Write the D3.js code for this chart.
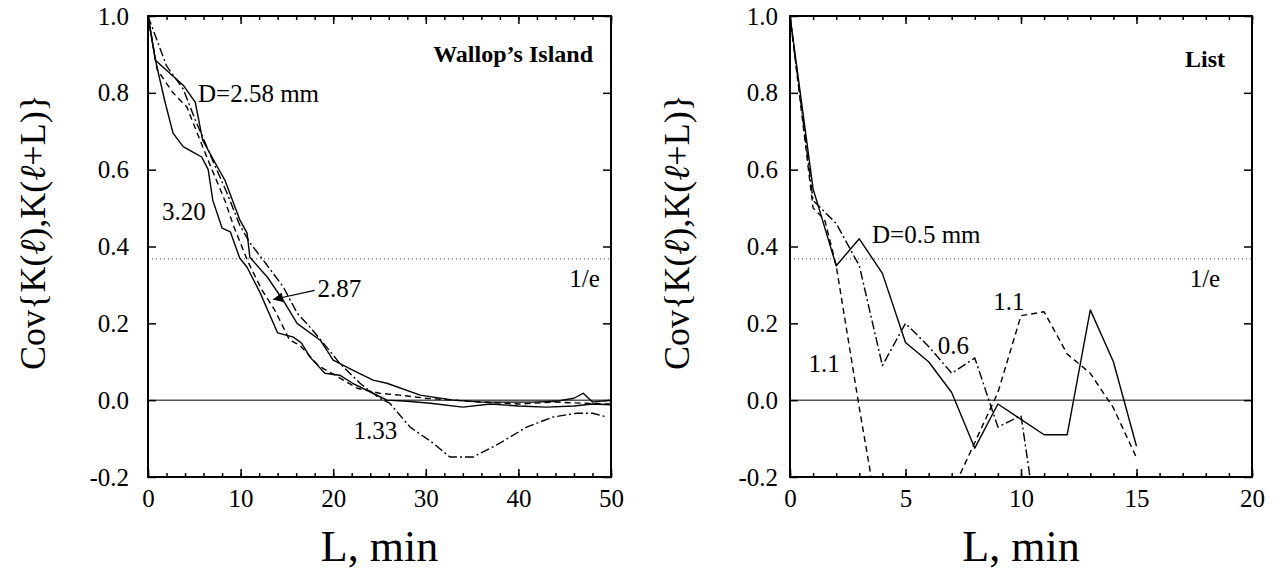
<!DOCTYPE html>
<html>
<head>
<meta charset="utf-8">
<script src="https://cdn.jsdelivr.net/npm/d3@7"></script>
<style>
  html, body { margin: 0; padding: 0; background: #fff; }
  svg { display: block; font-family: "Liberation Serif", "DejaVu Serif", serif; }
  .frame { fill: none; stroke: #000; stroke-width: 2; }
  .curve { fill: none; stroke: #000; stroke-width: 1.4; stroke-linejoin: round; }
  .tick-label { font-family: "Liberation Serif", serif; font-size: 25px; fill: #000; }
  .note { font-family: "Liberation Serif", serif; }
</style>
</head>
<body>
<svg id="chart" width="1277" height="571"></svg>
<script>
'use strict';

// ── Data: left panel (Wallop's Island), [L min, Cov] ─────────
const WALLOPS_258 = [[0,1],[0.8,0.885],[3.8,0.82],[5.1,0.776],[5.9,0.677],[7.5,0.607],[8.3,0.573],
  [9.9,0.47],[10.7,0.435],[11.0,0.372],[12.9,0.32],[14.6,0.26],[16.1,0.2],[18.6,0.156],[20,0.104],
  [22.1,0.078],[24.3,0.052],[25.8,0.044],[29.4,0.013],[33,0.0],[36,-0.005],[41.6,-0.005],[44,-0.003],
  [46,0.005],[47,0.018],[48,-0.005],[50,0.0]];
const WALLOPS_320 = [[0,1],[0.8,0.885],[1.8,0.78],[2.7,0.695],[3.8,0.66],[4.9,0.645],[5.8,0.633],
  [6.5,0.6],[7.0,0.52],[8.0,0.448],[8.9,0.438],[9.9,0.37],[10.7,0.346],[12.1,0.28],[14.0,0.175],
  [15.7,0.164],[16.6,0.148],[17.5,0.112],[19.1,0.07],[20.7,0.065],[22.1,0.044],[24.3,0.018],[25.8,0.0],
  [28,-0.003],[30.5,-0.008],[34,-0.018],[37,-0.01],[40,-0.015],[43,-0.018],[46,-0.015],[48,-0.01],[50,-0.012]];
const WALLOPS_287 = [[0,1],[1,0.86],[2.7,0.8],[4.2,0.763],[5.4,0.69],[6.7,0.612],[8.3,0.52],[9.2,0.456],
  [10.8,0.36],[12.3,0.287],[13.7,0.234],[15.3,0.156],[16.4,0.143],[18.4,0.09],[20.2,0.065],[22.6,0.031],
  [25,0.018],[27.2,0.013],[30,0.005],[33,0.0],[36,-0.005],[40,-0.01],[44,-0.005],[47,-0.008],[50,-0.01]];
const WALLOPS_133 = [[0,1],[2,0.87],[3.8,0.81],[5.1,0.73],[6.7,0.64],[8.6,0.535],[9.9,0.456],[11,0.41],
  [12.9,0.35],[14.6,0.295],[16.1,0.227],[17.5,0.19],[19.3,0.138],[20.7,0.096],[22.9,0.044],[25,0.005],
  [26.1,-0.008],[28.3,-0.07],[30.8,-0.112],[32.6,-0.148],[35.1,-0.148],[38,-0.112],[40.9,-0.07],
  [43.7,-0.044],[46.3,-0.034],[48,-0.034],[49.6,-0.044]];

// ── Data: right panel (List) ─────────────────────────────────
const LIST_05 = [[0,1],[1,0.55],[2,0.35],[3,0.42],[4,0.33],[5,0.15],[6,0.10],[7,0.02],[8,-0.125],
  [9,-0.01],[10,-0.05],[11,-0.09],[12,-0.09],[13,0.235],[14,0.10],[15,-0.12]];
const LIST_06 = [[0,1],[1,0.52],[2,0.46],[3,0.35],[4,0.09],[5,0.2],[6,0.14],[7,0.07],[8,0.11],
  [9,-0.07],[10,-0.04],[11,-0.45]];
const LIST_11 = [[0,1],[1,0.5],[1.5,0.47],[2,0.35],[3,-0.02],[4,-0.37],[5,-0.55],[6,-0.45],[7,-0.24],
  [8,-0.11],[9,0.02],[10,0.22],[11,0.23],[12,0.12],[13,0.07],[14,-0.02],[15,-0.15]];

const Y_TICKS = [-0.2, 0.0, 0.2, 0.4, 0.6, 0.8, 1.0];
const INV_E = 1 / Math.E;

const DASH = { solid: null, dashed: '6,4', dashdot: '9,3,2,3' };

const panels = [
  {
    id: 'left', x0: 148, x1: 611, xMax: 50, xMajor: d3.range(0, 51, 10), xMinor: d3.range(0, 51, 2),
    yLabelGap: 19, yTitleX: 33, site: "Wallop\u2019s Island", siteX: 593, siteY: 62,
    series: [
      { data: WALLOPS_258, dash: 'solid' },
      { data: WALLOPS_320, dash: 'solid' },
      { data: WALLOPS_287, dash: 'dashed' },
      { data: WALLOPS_133, dash: 'dashdot' },
    ],
    notes: [
      { t: 'D=2.58 mm', L: 5.4, v: 0.775 },
      { t: '3.20', L: 1.5, v: 0.47 },
      { t: '2.87', L: 18.3, v: 0.268 },
      { t: '1.33', L: 22.2, v: -0.1 },
      { t: '1/e', L: 45.5, v: 0.294 },
    ],
    arrow: { from: [18.0, 0.286], to: [13.5, 0.262] },
  },
  {
    id: 'right', x0: 790, x1: 1252, xMax: 20, xMajor: d3.range(0, 21, 5), xMinor: d3.range(0, 21, 1),
    yLabelGap: 12, yTitleX: 677, site: 'List', siteX: 1225, siteY: 67,
    series: [
      { data: LIST_05, dash: 'solid' },
      { data: LIST_06, dash: 'dashdot' },
      { data: LIST_11, dash: 'dashed' },
    ],
    notes: [
      { t: 'D=0.5 mm', L: 3.55, v: 0.41 },
      { t: '1.1', L: 0.8, v: 0.073 },
      { t: '1.1', L: 8.8, v: 0.234 },
      { t: '0.6', L: 6.4, v: 0.12 },
      { t: '1/e', L: 17.3, v: 0.294 },
    ],
  },
];

const TOP = 16, BOTTOM = 477;
const svg = d3.select('#chart');

const defs = svg.append('defs');
defs.append('marker')
  .attr('id', 'arrowhead').attr('viewBox', '0 0 10 10')
  .attr('refX', 10).attr('refY', 5)
  .attr('markerWidth', 16).attr('markerHeight', 10)
  .attr('markerUnits', 'userSpaceOnUse').attr('orient', 'auto')
  .append('path').attr('d', 'M0,0 L10,5 L0,10 Z').attr('fill', '#000');

panels.forEach(p => {
  const x = d3.scaleLinear().domain([0, p.xMax]).range([p.x0, p.x1]);
  const y = d3.scaleLinear().domain([-0.2, 1.0]).range([BOTTOM, TOP]);
  const g = svg.append('g').attr('class', 'panel-' + p.id);

  defs.append('clipPath').attr('id', 'clip-' + p.id)
    .append('rect').attr('x', p.x0).attr('y', TOP)
    .attr('width', p.x1 - p.x0).attr('height', BOTTOM - TOP);

  // reference lines: zero and 1/e
  g.append('line')
    .attr('x1', p.x0).attr('x2', p.x1).attr('y1', y(0)).attr('y2', y(0))
    .attr('stroke', '#000').attr('stroke-width', 1);
  g.append('line')
    .attr('x1', p.x0).attr('x2', p.x1).attr('y1', y(INV_E)).attr('y2', y(INV_E))
    .attr('stroke', '#555').attr('stroke-width', 1).attr('stroke-dasharray', '1,3');

  // curves
  const line = d3.line().x(d => x(d[0])).y(d => y(d[1]));
  g.append('g').attr('clip-path', `url(#clip-${p.id})`)
    .selectAll('path').data(p.series).join('path')
    .attr('class', 'curve')
    .attr('stroke-dasharray', d => DASH[d.dash])
    .attr('d', d => line(d.data));

  // ticks (inward) – majors and minors on bottom/top, majors on left/right
  const styleAxis = sel => {
    sel.attr('font-family', null).attr('font-size', null);
    sel.select('.domain').remove();
    sel.selectAll('line').attr('stroke', '#000').attr('stroke-width', 1.5);
    sel.selectAll('text').attr('class', 'tick-label');
  };
  g.append('g').attr('transform', `translate(0,${BOTTOM})`)
    .call(d3.axisBottom(x).tickValues(p.xMinor).tickSize(-4).tickFormat(''))
    .call(styleAxis);
  g.append('g').attr('transform', `translate(0,${TOP})`)
    .call(d3.axisTop(x).tickValues(p.xMinor).tickSize(-4).tickFormat(''))
    .call(styleAxis);
  g.append('g').attr('transform', `translate(0,${TOP})`)
    .call(d3.axisTop(x).tickValues(p.xMajor).tickSize(-8).tickFormat(''))
    .call(styleAxis);
  g.append('g').attr('transform', `translate(0,${BOTTOM})`)
    .call(d3.axisBottom(x).tickValues(p.xMajor).tickSize(-8).tickPadding(12).tickFormat(d => String(d)))
    .call(styleAxis);
  g.append('g').attr('transform', `translate(${p.x0},0)`)
    .call(d3.axisLeft(y).tickValues(Y_TICKS).tickSize(-8).tickPadding(p.yLabelGap).tickFormat(d => d.toFixed(1)))
    .call(styleAxis);
  g.append('g').attr('transform', `translate(${p.x1},0)`)
    .call(d3.axisRight(y).tickValues(Y_TICKS).tickSize(-8).tickFormat(''))
    .call(styleAxis);

  // frame
  g.append('rect').attr('class', 'frame')
    .attr('x', p.x0).attr('y', TOP).attr('width', p.x1 - p.x0).attr('height', BOTTOM - TOP);

  // annotations
  g.selectAll('text.note').data(p.notes).join('text')
    .attr('class', 'note')
    .attr('x', d => x(d.L)).attr('y', d => y(d.v))
    .attr('font-size', 25)
    .text(d => d.t);

  g.append('text')
    .attr('x', p.siteX).attr('y', p.siteY)
    .attr('text-anchor', 'end').attr('font-size', 24).attr('font-weight', 'bold')
    .text(p.site);

  if (p.arrow) {
    g.append('line')
      .attr('x1', x(p.arrow.from[0])).attr('y1', y(p.arrow.from[1]))
      .attr('x2', x(p.arrow.to[0])).attr('y2', y(p.arrow.to[1]))
      .attr('stroke', '#000').attr('stroke-width', 1.2)
      .attr('marker-end', 'url(#arrowhead)');
  }

  // axis titles
  g.append('text')
    .attr('x', (p.x0 + p.x1) / 2).attr('y', 561)
    .attr('text-anchor', 'middle').attr('font-size', 44)
    .text('L, min');

  const yt = g.append('text')
    .attr('transform', `translate(${p.yTitleX + 12},232) rotate(-90)`)
    .attr('text-anchor', 'middle').attr('font-size', 36);
  yt.append('tspan').text('Cov{K(');
  yt.append('tspan').attr('font-style', 'italic').text('\u2113');
  yt.append('tspan').text('),K(');
  yt.append('tspan').attr('font-style', 'italic').text('\u2113');
  yt.append('tspan').text('+L)}');
});
</script>
</body>
</html>
